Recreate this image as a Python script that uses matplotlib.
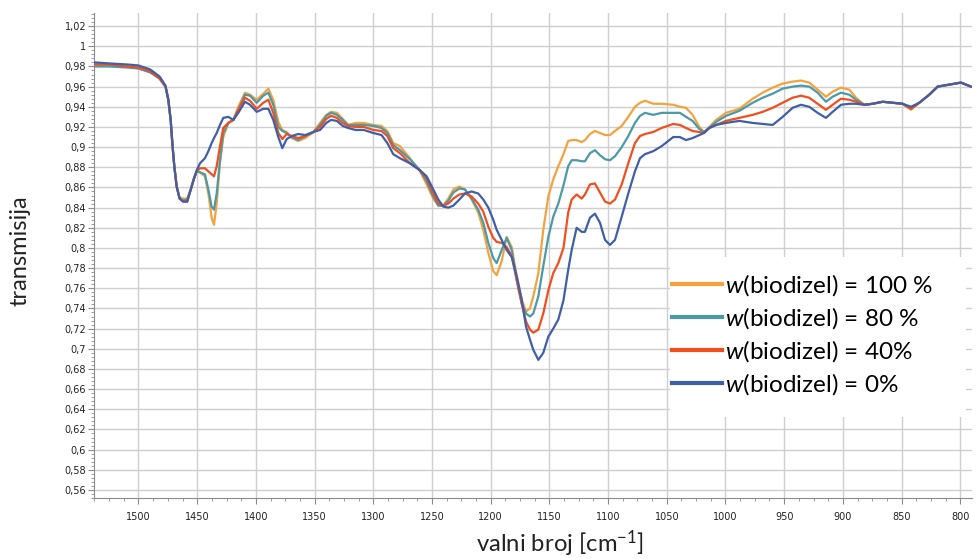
import matplotlib
matplotlib.use("Agg")
import matplotlib.pyplot as plt
from matplotlib.patches import Rectangle
from matplotlib.ticker import MultipleLocator, FuncFormatter

# --- Data (wavenumber in cm-1, transmittance) ---
wavenumber = [1537, 1525, 1510, 1500, 1490, 1482, 1477, 1474.6, 1472.6, 1471,
              1469.5, 1467.5, 1465, 1462, 1458.5, 1455.5, 1452.7, 1450.4, 1447.6, 1443.4,
              1440.5, 1437.7, 1435.7, 1433.4, 1430.6, 1427.8, 1423.5, 1419.2, 1415, 1409.3,
              1405, 1399.3, 1393.7, 1389.4, 1385.2, 1380.9, 1377.5, 1373.8, 1369.5, 1364,
              1358, 1351, 1345.4, 1340, 1336, 1331, 1326, 1321.5, 1315, 1308,
              1300, 1293, 1288, 1283, 1277.3, 1268.8, 1260.2, 1254.5, 1248.9, 1244.6,
              1240.4, 1236.1, 1231.8, 1226.7, 1221.9, 1216.2, 1210.6, 1206.3, 1202, 1197.8,
              1194.9, 1190.6, 1186.4, 1182.1, 1177.8, 1173.6, 1169.9, 1166.5, 1163.7, 1159.4,
              1155.2, 1150.9, 1146.7, 1142.4, 1138, 1134, 1131, 1126.8, 1122.5, 1119.7,
              1115.4, 1111.2, 1106.9, 1102.6, 1098.4, 1094.1, 1088.4, 1082.8, 1077.1, 1072.8,
              1068.6, 1061.5, 1054.3, 1044.5, 1038.8, 1033.6, 1028, 1022.3, 1018.3, 1013.8,
              1008, 999.6, 988.2, 976.8, 968.3, 959.8, 951.3, 942.8, 935.7, 928.6,
              921.5, 914.4, 908.7, 901.6, 894.5, 888.8, 881.8, 874.6, 866.1, 857.6,
              849.1, 842, 834.9, 826.4, 819.3, 809.4, 799.4, 790.9]

bio_100 = [0.981, 0.981, 0.980, 0.978, 0.975, 0.968, 0.960, 0.947, 0.927, 0.901,
           0.881, 0.861, 0.850, 0.849, 0.849, 0.858, 0.869, 0.876, 0.875, 0.871,
           0.854, 0.830, 0.823, 0.844, 0.884, 0.910, 0.924, 0.927, 0.940, 0.954,
           0.952, 0.947, 0.953, 0.958, 0.947, 0.925, 0.917, 0.915, 0.909, 0.906,
           0.909, 0.915, 0.924, 0.932, 0.935, 0.934, 0.928, 0.922, 0.924, 0.924,
           0.922, 0.921, 0.916, 0.904, 0.901, 0.889, 0.876, 0.863, 0.849, 0.842,
           0.842, 0.849, 0.858, 0.861, 0.858, 0.848, 0.835, 0.818, 0.795, 0.777,
           0.773, 0.787, 0.811, 0.801, 0.772, 0.749, 0.737, 0.740, 0.752, 0.775,
           0.818, 0.851, 0.868, 0.881, 0.893, 0.906, 0.907, 0.907, 0.905, 0.907,
           0.913, 0.916, 0.914, 0.912, 0.912, 0.916, 0.921, 0.930, 0.940, 0.944,
           0.946, 0.943, 0.943, 0.942, 0.940, 0.939, 0.932, 0.920, 0.915, 0.920,
           0.927, 0.934, 0.938, 0.948, 0.954, 0.959, 0.963, 0.965, 0.966, 0.964,
           0.957, 0.950, 0.955, 0.959, 0.957, 0.949, 0.942, 0.943, 0.945, 0.944,
           0.943, 0.937, 0.944, 0.952, 0.960, 0.962, 0.964, 0.960]

bio_80 = [0.980, 0.980, 0.979, 0.978, 0.974, 0.968, 0.960, 0.947, 0.927, 0.901,
          0.881, 0.861, 0.849, 0.847, 0.848, 0.858, 0.869, 0.876, 0.875, 0.873,
          0.858, 0.841, 0.838, 0.854, 0.887, 0.914, 0.924, 0.927, 0.937, 0.952,
          0.951, 0.944, 0.951, 0.954, 0.942, 0.920, 0.916, 0.914, 0.910, 0.907,
          0.911, 0.915, 0.922, 0.931, 0.934, 0.932, 0.927, 0.922, 0.922, 0.922,
          0.921, 0.919, 0.914, 0.902, 0.897, 0.888, 0.877, 0.866, 0.851, 0.842,
          0.842, 0.847, 0.855, 0.859, 0.858, 0.849, 0.838, 0.825, 0.805, 0.790,
          0.785, 0.798, 0.810, 0.798, 0.768, 0.745, 0.735, 0.732, 0.735, 0.752,
          0.782, 0.811, 0.831, 0.844, 0.862, 0.881, 0.887, 0.887, 0.886, 0.886,
          0.894, 0.897, 0.892, 0.888, 0.887, 0.891, 0.900, 0.911, 0.924, 0.931,
          0.934, 0.932, 0.934, 0.934, 0.934, 0.930, 0.926, 0.918, 0.915, 0.919,
          0.925, 0.931, 0.936, 0.944, 0.949, 0.953, 0.958, 0.960, 0.961, 0.960,
          0.954, 0.945, 0.950, 0.954, 0.952, 0.947, 0.942, 0.943, 0.945, 0.944,
          0.943, 0.938, 0.944, 0.952, 0.960, 0.962, 0.964, 0.960]

bio_40 = [0.982, 0.982, 0.980, 0.979, 0.975, 0.968, 0.960, 0.947, 0.927, 0.901,
          0.881, 0.861, 0.849, 0.846, 0.846, 0.858, 0.869, 0.876, 0.879, 0.879,
          0.876, 0.873, 0.871, 0.881, 0.901, 0.919, 0.924, 0.927, 0.937, 0.949,
          0.946, 0.938, 0.944, 0.947, 0.934, 0.914, 0.908, 0.913, 0.911, 0.909,
          0.911, 0.915, 0.920, 0.928, 0.931, 0.929, 0.924, 0.921, 0.920, 0.920,
          0.917, 0.916, 0.911, 0.899, 0.894, 0.884, 0.877, 0.869, 0.854, 0.844,
          0.842, 0.844, 0.849, 0.853, 0.854, 0.851, 0.844, 0.836, 0.821, 0.810,
          0.806, 0.805, 0.801, 0.792, 0.768, 0.745, 0.727, 0.719, 0.716, 0.719,
          0.735, 0.758, 0.775, 0.785, 0.800, 0.835, 0.848, 0.853, 0.849, 0.853,
          0.863, 0.864, 0.855, 0.846, 0.844, 0.848, 0.863, 0.884, 0.904, 0.911,
          0.913, 0.915, 0.919, 0.923, 0.922, 0.919, 0.916, 0.915, 0.914, 0.919,
          0.922, 0.926, 0.929, 0.932, 0.935, 0.939, 0.944, 0.949, 0.951, 0.949,
          0.943, 0.937, 0.942, 0.948, 0.947, 0.945, 0.942, 0.943, 0.945, 0.944,
          0.943, 0.938, 0.944, 0.952, 0.960, 0.962, 0.964, 0.960]

bio_0 = [0.984, 0.983, 0.982, 0.981, 0.977, 0.970, 0.961, 0.947, 0.927, 0.901,
         0.881, 0.861, 0.849, 0.846, 0.846, 0.858, 0.869, 0.877, 0.884, 0.889,
         0.896, 0.904, 0.909, 0.914, 0.922, 0.929, 0.930, 0.927, 0.934, 0.945,
         0.942, 0.935, 0.938, 0.938, 0.927, 0.910, 0.899, 0.908, 0.911, 0.913,
         0.912, 0.915, 0.917, 0.924, 0.927, 0.926, 0.921, 0.919, 0.917, 0.917,
         0.914, 0.912, 0.904, 0.893, 0.889, 0.884, 0.877, 0.871, 0.858, 0.848,
         0.841, 0.840, 0.842, 0.848, 0.854, 0.856, 0.854, 0.848, 0.840, 0.828,
         0.818, 0.808, 0.798, 0.791, 0.772, 0.749, 0.722, 0.709, 0.699, 0.689,
         0.696, 0.712, 0.720, 0.729, 0.748, 0.778, 0.798, 0.820, 0.816, 0.816,
         0.830, 0.834, 0.825, 0.808, 0.803, 0.808, 0.831, 0.854, 0.876, 0.889,
         0.893, 0.896, 0.901, 0.910, 0.910, 0.907, 0.909, 0.912, 0.914, 0.919,
         0.922, 0.924, 0.926, 0.924, 0.923, 0.922, 0.930, 0.939, 0.942, 0.940,
         0.934, 0.929, 0.935, 0.942, 0.943, 0.943, 0.942, 0.943, 0.945, 0.944,
         0.943, 0.940, 0.944, 0.952, 0.960, 0.962, 0.964, 0.960]

series = [
    (bio_100, "#F5A23E", r"$\it{w}$(biodizel) = 100 %"),
    (bio_80, "#4A9AA8", r"$\it{w}$(biodizel) = 80 %"),
    (bio_40, "#F24E1E", r"$\it{w}$(biodizel) = 40%"),
    (bio_0, "#3F5FA8", r"$\it{w}$(biodizel) = 0%"),
]

plt.rcParams["mathtext.fontset"] = "custom"
plt.rcParams["mathtext.rm"] = "Lato"
plt.rcParams["mathtext.it"] = "Lato:italic"

fig = plt.figure(figsize=(9.76, 5.59), dpi=100)
ax = fig.add_axes([0.0968, 0.1091, 0.8991, 0.8676])

for values, color, label in series:
    ax.plot(wavenumber, values, color=color, lw=1.6, label=label, zorder=3)

# --- Axes ---
ax.set_xlim(1537.5, 790)
ax.set_ylim(0.552, 1.033)
ax.xaxis.set_major_locator(MultipleLocator(50))
ax.xaxis.set_minor_locator(MultipleLocator(12.5))
ax.yaxis.set_major_locator(MultipleLocator(0.02))
ax.yaxis.set_minor_locator(MultipleLocator(0.004))
ax.yaxis.set_major_formatter(FuncFormatter(lambda v, p: f"{v:.2f}".rstrip("0").rstrip(".").replace(".", ",")))

ax.grid(which="major", color="#cfcfcf", lw=1)
ax.set_axisbelow(True)
for s in ["top", "right"]:
    ax.spines[s].set_visible(False)
for s in ["left", "bottom"]:
    ax.spines[s].set_color("#8c8c8c")

ax.tick_params(axis="both", which="major", labelsize=7, color="#8c8c8c", labelcolor="#222222", length=4)
ax.tick_params(axis="both", which="minor", color="#8c8c8c", length=2.5)
ax.tick_params(axis="x", which="both", pad=6)
ax.tick_params(axis="y", which="both", pad=2)

fig.text(0.02, 0.551, "transmisija", rotation=90, ha="center", va="center",
         fontsize=17, family="Lato", color="#222222")
fig.text(0.574, 0.028, r"valni broj [cm$^{-1}$]", ha="center", va="center",
         fontsize=17.2, family="Lato", color="#222222")

# --- Legend: white box over the grid, entries without frame ---
fig.patches.append(Rectangle((670 / 976, 1 - 417 / 559), 296 / 976, 160 / 559,
                             transform=fig.transFigure, facecolor="white",
                             edgecolor="none", zorder=1))
handles, labels = ax.get_legend_handles_labels()
leg = fig.legend(handles, labels, loc="upper left", bbox_to_anchor=(672 / 976, 1 - 272 / 559),
                 frameon=False, prop={"family": "Lato", "size": 17.5}, handlelength=2.05,
                 handletextpad=0.15, labelspacing=0.3, borderpad=0, borderaxespad=0)
leg.set_zorder(5)
for line in leg.get_lines():
    line.set_linewidth(3)

fig.savefig("out.png", dpi=100, facecolor="white")
